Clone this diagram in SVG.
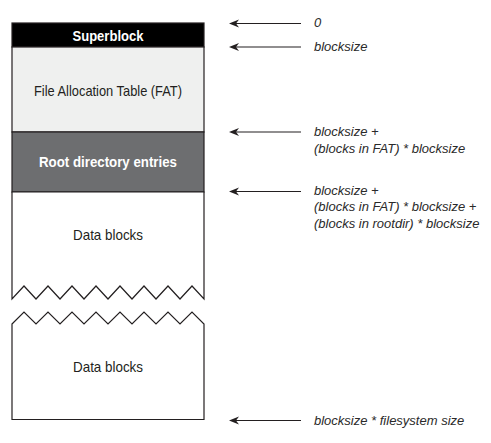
<svg xmlns="http://www.w3.org/2000/svg" width="491" height="443" viewBox="0 0 491 443">
<style>
.box{stroke:#231f20;stroke-width:1.2}
.lbl{font-family:"Liberation Sans",Arial,sans-serif;font-size:15px;text-anchor:middle}
.b{font-weight:bold;fill:#fff}
.n{fill:#231f20}
.off{font-family:"Liberation Sans",Arial,sans-serif;font-size:13px;font-style:italic;fill:#2a2a2a}
.arr{stroke:#231f20;stroke-width:1.2;fill:none;marker-end:url(#ah)}
</style>
<defs>
<marker id="ah" viewBox="0 0 10 10" refX="7" refY="5" markerWidth="10" markerHeight="10" markerUnits="userSpaceOnUse" orient="auto">
<path d="M10,5 L0,1 L3,5 L0,9 Z" fill="#231f20"/>
</marker>
</defs>
<rect width="491" height="443" fill="#fff"/>
<g id="superblock">
<rect class="box" x="12" y="23" width="192" height="24" fill="#000"/>
<text class="lbl b" x="108" y="40.5" textLength="71" lengthAdjust="spacingAndGlyphs">Superblock</text>
</g>
<g id="fat">
<rect class="box" x="12" y="47" width="192" height="85" fill="#eff0ef"/>
<text class="lbl n" x="108" y="95.5" textLength="148" lengthAdjust="spacingAndGlyphs">File Allocation Table (FAT)</text>
</g>
<g id="rootdir">
<rect class="box" x="12" y="132" width="192" height="60" fill="#6d6e70"/>
<text class="lbl b" x="108" y="166.5" textLength="138" lengthAdjust="spacingAndGlyphs">Root directory entries</text>
</g>
<g id="data1">
<path class="box" fill="#fff" d="M12,192 H204 V299 L192,286 L180,299 L168,286 L156,299 L144,286 L132,299 L120,286 L108,299 L96,286 L84,299 L72,286 L60,299 L48,286 L36,299 L24,286 L12,299 Z"/>
<text class="lbl n" x="108" y="239.5" textLength="70" lengthAdjust="spacingAndGlyphs">Data blocks</text>
</g>
<g id="data2">
<path class="box" fill="#fff" d="M12,324 L24,312 L36,324 L48,312 L60,324 L72,312 L84,324 L96,312 L108,324 L120,312 L132,324 L144,312 L156,324 L168,312 L180,324 L192,312 L204,324 V419.5 H12 Z"/>
<text class="lbl n" x="108" y="371.5" textLength="70" lengthAdjust="spacingAndGlyphs">Data blocks</text>
</g>
<g id="connectors">
<line class="arr" x1="301" y1="23.5" x2="232" y2="23.5"/>
<line class="arr" x1="301" y1="47" x2="232" y2="47"/>
<line class="arr" x1="301" y1="132" x2="232" y2="132"/>
<line class="arr" x1="301" y1="191.5" x2="232" y2="191.5"/>
<line class="arr" x1="301" y1="420.5" x2="232" y2="420.5"/>
</g>
<g id="offsets">
<text class="off" x="314" y="27">0</text>
<text class="off" x="314" y="51">blocksize</text>
<text class="off" x="314" y="136">blocksize +</text>
<text class="off" x="314" y="152.5">(blocks in FAT) * blocksize</text>
<text class="off" x="314" y="194.5">blocksize +</text>
<text class="off" x="314" y="211">(blocks in FAT) * blocksize +</text>
<text class="off" x="314" y="227.5">(blocks in rootdir) * blocksize</text>
<text class="off" x="314" y="424.5">blocksize * filesystem size</text>
</g>
</svg>
